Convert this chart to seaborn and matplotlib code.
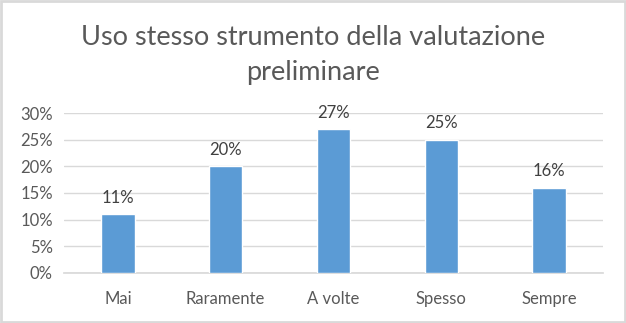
import matplotlib
matplotlib.use("Agg")
import matplotlib.pyplot as plt
import seaborn as sns
import pandas as pd
from matplotlib.patches import Rectangle
from matplotlib.ticker import PercentFormatter

categories = ["Mai", "Raramente", "A volte", "Spesso", "Sempre"]
values = [11, 20, 27, 25, 16]
y_ticks = [0, 5, 10, 15, 20, 25, 30]

sns.set_theme(style="white")
plt.rcParams["font.family"] = ["Lato", "DejaVu Sans"]

df = pd.DataFrame({"categoria": categories, "valore": values})

fig = plt.figure(figsize=(6.26, 3.23), dpi=100)
ax = fig.add_axes([0.1022, 0.155, 0.861, 0.495])

sns.barplot(data=df, x="categoria", y="valore", color="#5B9BD5",
            width=0.31, saturation=1, ax=ax, zorder=3)

ax.set_ylim(0, 30)
ax.set_yticks(y_ticks)
ax.yaxis.set_major_formatter(PercentFormatter(decimals=0))
ax.grid(axis="y", color="#D9D9D9", linewidth=1, zorder=0)
for s in ["top", "right", "left"]:
    ax.spines[s].set_visible(False)
ax.spines["bottom"].set_color("#D9D9D9")
ax.set_xlabel("")
ax.set_ylabel("")
ax.tick_params(axis="both", length=0, labelsize=12, colors="#595959", pad=8)
ax.tick_params(axis="x", pad=13)

for i, v in enumerate(values):
    ax.text(i, v + 1.6, f"{v}%", ha="center", va="bottom",
            fontsize=12, color="#404040")

fig.text(0.5, 0.83, "Uso stesso strumento della valutazione\npreliminare",
         ha="center", va="center", fontsize=19.5, color="#595959",
         fontweight="normal", linespacing=1.5)

fig.patches.append(Rectangle((0.002, 0.003), 0.996, 0.994, transform=fig.transFigure,
                             fill=False, edgecolor="#D9D9D9", linewidth=2))

fig.savefig("out.png", dpi=100)
